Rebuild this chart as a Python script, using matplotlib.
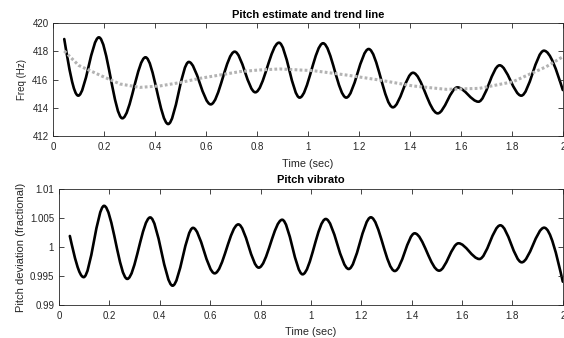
import numpy as np
import matplotlib
matplotlib.use('Agg')
import matplotlib.pyplot as plt
from matplotlib.path import Path
from matplotlib.patches import PathPatch

# valeurs (extrema des oscillations)
t_ext = [0.043, 0.098, 0.179, 0.271, 0.362, 0.451, 0.532, 0.618, 0.712, 0.793,
         0.886, 0.967, 1.059, 1.150, 1.238, 1.333, 1.412, 1.509, 1.586, 1.669,
         1.752, 1.837, 1.926, 2.0]
freq_ext = [418.88, 414.85, 419.0, 413.24, 417.58, 412.83, 417.25, 414.23, 417.98, 415.09,
            418.62, 414.71, 418.58, 414.71, 418.17, 414.02, 416.48, 413.59, 415.44, 414.42,
            417.01, 414.85, 418.05, 415.25]
vib_ext = [1.0019, 0.9948, 1.0071, 0.9945, 1.0051, 0.99333, 1.0033, 0.99546, 1.0039, 0.99644,
           1.0047, 0.99529, 1.00483, 0.99621, 1.00512, 0.99586, 1.00236, 0.99592, 1.00064, 0.99793,
           1.00374, 0.99736, 1.00333, 0.99402]

# ligne de tendance
t_trend = [0.043, 0.1, 0.19, 0.262, 0.34, 0.418, 0.497, 0.575, 0.654, 0.732, 0.81,
           0.889, 1.02, 1.15, 1.281, 1.412, 1.543, 1.673, 1.804, 1.935, 2.0]
freq_trend = [418.03, 417.0, 416.25, 415.68, 415.44, 415.54, 415.78, 416.08, 416.32, 416.56, 416.68,
              416.75, 416.63, 416.32, 415.96, 415.54, 415.30, 415.37, 415.84, 416.91, 417.62]

x_ticks = [0, 0.2, 0.4, 0.6, 0.8, 1, 1.2, 1.4, 1.6, 1.8, 2]
x_labels = ['0', '0.2', '0.4', '0.6', '0.8', '1', '1.2', '1.4', '1.6', '1.8', '2']
freq_ticks = [412, 414, 416, 418, 420]
vib_ticks = [0.99, 0.995, 1.0, 1.005, 1.01]
vib_labels = ['0.99', '0.995', '1', '1.005', '1.01']

plt.rcParams['font.family'] = ['Liberation Sans', 'DejaVu Sans']
dark = '#262626'


def smooth_path(ts, ys):
    # courbes de Bezier entre extrema (tangentes horizontales)
    verts = [(ts[0], ys[0])]
    codes = [Path.MOVETO]
    n = len(ts)
    for i in range(n - 1):
        t0, y0, t1, y1 = ts[i], ys[i], ts[i + 1], ys[i + 1]
        dt = t1 - t0
        c1y = y0 if i > 0 else y0 + (y1 - y0) * 0.5
        c2y = y1 if i < n - 2 else y1 - (y1 - y0) * 0.5
        verts += [(t0 + dt / 3, c1y), (t1 - dt / 3, c2y), (t1, y1)]
        codes += [Path.CURVE4] * 3
    return Path(verts, codes)


def style(ax):
    ax.tick_params(direction='in', top=True, right=True, length=3.5, width=0.6,
                   colors=dark, labelsize=7)
    ax.tick_params(axis='x', pad=4.5)
    ax.tick_params(axis='y', pad=3.5)
    for s in ax.spines.values():
        s.set_color(dark)
        s.set_linewidth(0.6)
    ax.set_xlim(0, 2)
    ax.set_xticks(x_ticks)
    ax.set_xticklabels(x_labels)


fig = plt.figure(figsize=(5.64, 3.38), dpi=100)

ax1 = fig.add_axes([53.3 / 564, 1 - 135.7 / 338, 509.5 / 564, 112.4 / 338])
ax1.add_patch(PathPatch(smooth_path(t_ext, freq_ext), fill=False, ec='black', lw=1.9,
                        capstyle='round', joinstyle='round'))
ax1.plot(t_trend, freq_trend, color='#b3b3b3', lw=2.2, linestyle=(0, (0.9, 0.75)))
style(ax1)
ax1.set_ylim(412, 420)
ax1.set_yticks(freq_ticks)
ax1.set_title('Pitch estimate and trend line', fontsize=8, fontweight='bold', pad=4)
ax1.set_xlabel('Time (sec)', fontsize=7.8, color=dark, labelpad=5)
ax1.set_ylabel('Freq (Hz)', fontsize=7, color=dark, labelpad=4)

ax2 = fig.add_axes([59 / 564, 1 - 305 / 338, 503.8 / 564, 116 / 338])
ax2.add_patch(PathPatch(smooth_path(t_ext, vib_ext), fill=False, ec='black', lw=1.9,
                        capstyle='round', joinstyle='round'))
style(ax2)
ax2.set_ylim(0.99, 1.01)
ax2.set_yticks(vib_ticks)
ax2.set_yticklabels(vib_labels)
ax2.set_title('Pitch vibrato', fontsize=8, fontweight='bold', pad=4)
ax2.set_xlabel('Time (sec)', fontsize=7.8, color=dark, labelpad=4)
ax2.set_ylabel('Pitch deviation (fractional)', fontsize=8, color=dark, labelpad=3)

fig.savefig('out.png', dpi=100)
